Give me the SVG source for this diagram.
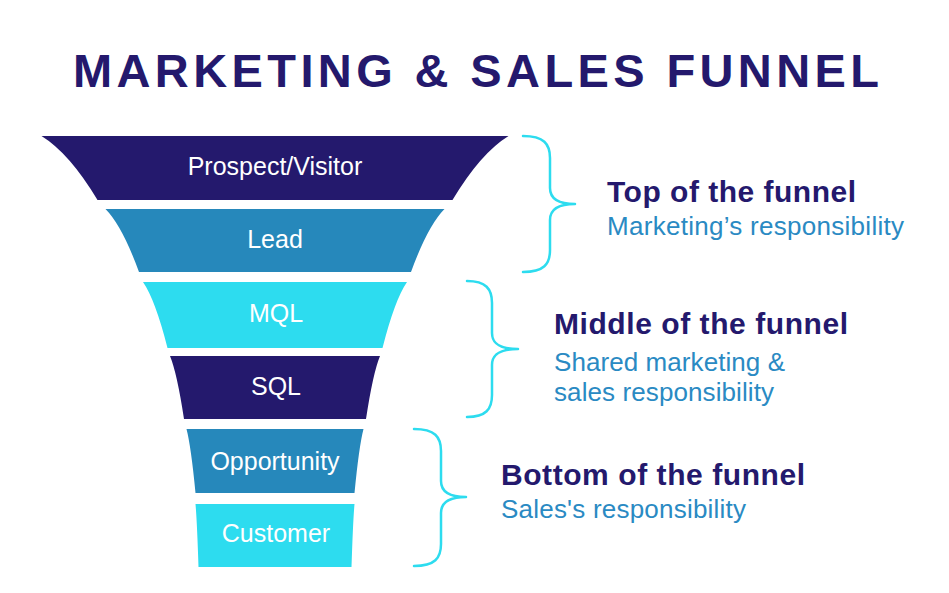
<svg xmlns="http://www.w3.org/2000/svg" width="949" height="593" viewBox="0 0 949 593">
  <style>
    .navy { fill: #24196d; }
    .blue { fill: #2688bb; }
    .cyan { fill: #2ddcef; }
    .lbl { font-family: "Liberation Sans", Arial, sans-serif; font-size: 25px; fill: #ffffff; text-anchor: middle; }
    .head { font-family: "Liberation Sans", Arial, sans-serif; font-size: 30px; font-weight: bold; fill: #24196d; }
    .sub { font-family: "Liberation Sans", Arial, sans-serif; font-size: 26px; fill: #2a8ac3; }
    .brace { fill: none; stroke: #2ddcef; stroke-width: 2.5; stroke-linecap: round; stroke-linejoin: round; }
  </style>
  <rect width="949" height="593" fill="#ffffff"/>
  <text x="73" y="87" font-family="'Liberation Sans', Arial, sans-serif" font-size="47" font-weight="bold" fill="#24196d" textLength="806" lengthAdjust="spacing">MARKETING &amp; SALES FUNNEL</text>

  <g id="prospect">
    <path class="navy" d="M41.5,136 L508.5,136 Q480.5,153.3 452.5,200 L97.5,200 Q69.5,153.3 41.5,136 Z"/>
    <text class="lbl" x="275" y="175">Prospect/Visitor</text>
  </g>
  <g id="lead">
    <path class="blue" d="M105.5,209 L444.5,209 Q427.75,226 411,272 L139,272 Q122.25,226 105.5,209 Z"/>
    <text class="lbl" x="275" y="248">Lead</text>
  </g>
  <g id="mql">
    <path class="cyan" d="M143,282 L407,282 Q394.75,299.8 382.5,348 L167.5,348 Q155.25,299.8 143,282 Z"/>
    <text class="lbl" x="276" y="322">MQL</text>
  </g>
  <g id="sql">
    <path class="navy" d="M170,356 L380,356 Q373,373 366,419 L184,419 Q177,373 170,356 Z"/>
    <text class="lbl" x="276" y="395">SQL</text>
  </g>
  <g id="opportunity">
    <path class="blue" d="M186.5,429 L363.5,429 Q359,446.3 354.5,493 L195.5,493 Q191,446.3 186.5,429 Z"/>
    <text class="lbl" x="275" y="470">Opportunity</text>
  </g>
  <g id="customer">
    <path class="cyan" d="M195.5,504 L354.5,504 Q353,521 351.5,567 L198.5,567 Q197,521 195.5,504 Z"/>
    <text class="lbl" x="276" y="542">Customer</text>
  </g>

  <g id="connectors">
    <path class="brace" d="M523,136 C544,136 550,144 550,158 L550,188 C550,199 558,204 575,204 C558,204 550,209 550,220 L550,250 C550,264 544,272 523,272"/>
    <path class="brace" d="M467,281 C486,281 492,289 492,303 L492,333 C492,344 500,349 518,349 C500,349 492,354 492,365 L492,395 C492,409 486,417 467,417"/>
    <path class="brace" d="M414,429 C435,429 441,437 441,451 L441,481 C441,492 449,497 466,497 C449,497 441,502 441,513 L441,544 C441,558 435,566 414,566"/>
  </g>

  <g id="top-of-funnel">
    <text class="head" x="607" y="202" textLength="249" lengthAdjust="spacing">Top of the funnel</text>
    <text class="sub" x="607" y="235" textLength="297" lengthAdjust="spacing">Marketing’s responsibility</text>
  </g>
  <g id="middle-of-funnel">
    <text class="head" x="554" y="334" textLength="294" lengthAdjust="spacing">Middle of the funnel</text>
    <text class="sub" x="554" y="371" textLength="231" lengthAdjust="spacing">Shared marketing &amp;</text>
    <text class="sub" x="554" y="401" textLength="220" lengthAdjust="spacing">sales responsibility</text>
  </g>
  <g id="bottom-of-funnel">
    <text class="head" x="501" y="485" textLength="304" lengthAdjust="spacing">Bottom of the funnel</text>
    <text class="sub" x="501" y="518" textLength="245" lengthAdjust="spacing">Sales's responsibility</text>
  </g>
</svg>
